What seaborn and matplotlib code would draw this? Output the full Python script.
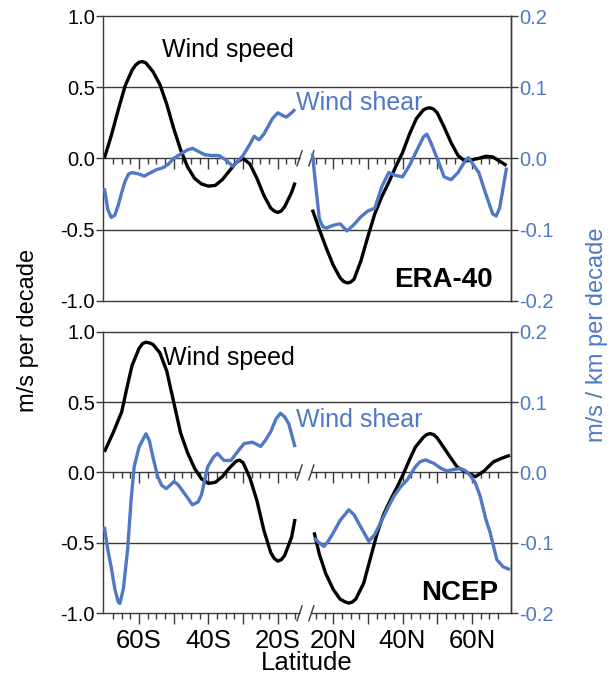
import numpy as np
import pandas as pd
import matplotlib
matplotlib.use("Agg")
import matplotlib.pyplot as plt
import seaborn as sns

sns.set_theme(style="white")
plt.rcParams["font.family"] = ["Liberation Sans", "DejaVu Sans"]
plt.rcParams["axes.unicode_minus"] = False
plt.rcParams["text.color"] = "black"

BLUE = "#4f79c4"
GREY = "#3a3a3a"

# ---------------- data (latitude in degrees, S negative) ----------------
# ERA-40 wind speed trend (m/s per decade)
era_spd_sh_lat = [-70, -68, -66, -64, -62, -61, -60, -59, -58, -56, -54, -52, -50, -48, -46, -44, -42,
                  -40, -38, -36, -34, -32, -30, -28, -26, -24, -22, -21, -20, -19, -18, -16, -15]
era_spd_sh = [0.0, 0.16, 0.34, 0.51, 0.62, 0.655, 0.675, 0.68, 0.67, 0.61, 0.52, 0.38, 0.21, 0.06,
              -0.06, -0.14, -0.18, -0.195, -0.19, -0.15, -0.09, -0.03, 0.0, -0.04, -0.14, -0.26,
              -0.35, -0.37, -0.38, -0.37, -0.34, -0.24, -0.17]
era_spd_nh_lat = [14, 16, 18, 20, 22, 23, 24, 25, 26, 28, 30, 32, 34, 36, 38, 40, 42, 44, 46, 47, 48,
                  49, 50, 52, 54, 56, 58, 60, 62, 64, 66, 68, 70]
era_spd_nh = [-0.36, -0.5, -0.63, -0.75, -0.84, -0.865, -0.875, -0.87, -0.85, -0.72, -0.55, -0.39,
              -0.27, -0.17, -0.06, 0.04, 0.17, 0.28, 0.34, 0.352, 0.355, 0.345, 0.32, 0.22, 0.11,
              0.02, -0.02, -0.01, 0.0, 0.015, 0.01, -0.02, -0.05]
# ERA-40 wind shear trend (m/s / km per decade)
era_shr_sh_lat = [-70, -69, -68, -67, -66, -65, -64, -63, -62, -60, -58.5, -57, -55, -53, -51.5, -50, -48,
                  -46, -44.5, -43, -41, -39, -37, -35, -33, -31.5, -30, -28, -26.8, -25.4, -24, -23,
                  -21.5, -20, -18.5, -17.5, -16, -15]
era_shr_sh = [-0.042, -0.072, -0.083, -0.080, -0.066, -0.048, -0.032, -0.022, -0.020, -0.022, -0.025,
              -0.021, -0.016, -0.013, -0.008, 0.0, 0.006, 0.012, 0.014, 0.010, 0.005, 0.004, 0.004,
              -0.002, -0.011, -0.004, 0.004, 0.02, 0.031, 0.026, 0.034, 0.043, 0.056, 0.064, 0.06,
              0.058, 0.064, 0.069]
era_shr_nh_lat = [14, 15, 16, 17, 18, 20, 22, 24, 26, 28, 30, 32, 34, 36, 38, 40, 42, 44, 46, 47, 48,
                  50, 52, 54, 56, 58, 59, 60, 62, 64, 66, 67, 68, 70]
era_shr_nh = [0.007, -0.04, -0.085, -0.096, -0.098, -0.094, -0.092, -0.102, -0.093, -0.082, -0.074,
              -0.07, -0.04, -0.02, -0.024, -0.026, -0.01, 0.01, 0.03, 0.034, 0.024, 0.0, -0.026, -0.03,
              -0.02, -0.004, 0.001, -0.006, -0.02, -0.05, -0.078, -0.081, -0.07, -0.013]

# NCEP wind speed trend (m/s per decade)
ncep_spd_sh_lat = [-70, -67.5, -65, -63.5, -62, -60, -59, -58, -57, -56, -54, -52, -50, -48, -46, -44,
                   -42, -40, -38, -36, -34, -32, -31, -30, -28, -26, -24, -22, -21, -20, -19, -18,
                   -16, -15]
ncep_spd_sh = [0.146, 0.28, 0.43, 0.6, 0.76, 0.88, 0.915, 0.925, 0.92, 0.91, 0.85, 0.72, 0.5, 0.28,
               0.14, 0.03, -0.045, -0.078, -0.07, -0.03, 0.03, 0.08, 0.087, 0.07, -0.04, -0.2, -0.41,
               -0.57, -0.61, -0.63, -0.62, -0.59, -0.46, -0.33]
ncep_spd_nh_lat = [14.5, 16, 17.8, 20, 22, 23.5, 24.5, 25.5, 26.5, 28.8, 30.5, 32.7, 34.5, 36.5, 38.5,
                   40.3, 42, 43.7, 46, 47, 48, 49, 50, 51.8, 54, 55.7, 58.5, 61, 63.5, 66.2, 68.5, 71]
ncep_spd_nh = [-0.425, -0.58, -0.715, -0.83, -0.9, -0.92, -0.928, -0.92, -0.9, -0.786, -0.63, -0.43,
               -0.3, -0.196, -0.1, -0.007, 0.09, 0.18, 0.25, 0.27, 0.276, 0.268, 0.245, 0.18, 0.1,
               0.04, 0.0, -0.03, 0.01, 0.075, 0.1, 0.122]
# NCEP wind shear trend (m/s / km per decade)
ncep_shr_sh_lat = [-70, -69, -68, -67, -66, -65.5, -64.5, -63.3, -62.3, -61.4, -60, -58, -57, -56, -54.6,
                   -53.5, -52.2, -51, -49.9, -48.8, -47.9, -46, -44.6, -43, -42, -40.2, -38.5, -37.4,
                   -35.5, -33.5, -31.5, -29.7, -27.3, -24.9, -23.5, -22, -20.5, -19.2, -18, -16.8, -15]
ncep_shr_sh = [-0.077, -0.11, -0.135, -0.165, -0.184, -0.186, -0.165, -0.11, -0.04, 0.008, 0.036, 0.055,
               0.045, 0.022, -0.006, -0.018, -0.023, -0.018, -0.013, -0.017, -0.023, -0.036, -0.046,
               -0.042, -0.032, 0.008, 0.022, 0.027, 0.017, 0.017, 0.03, 0.041, 0.043, 0.037, 0.046,
               0.058, 0.076, 0.084, 0.079, 0.069, 0.036]
ncep_shr_nh_lat = [14.5, 16, 17.3, 18.5, 20, 22, 24.5, 26, 27.9, 30.3, 32, 33.6, 35.5, 37.5, 39.5, 41.3,
                   43.7, 45, 46.6, 48, 49, 51, 52.8, 54.5, 56.6, 58, 59.5, 61, 62.4, 64, 65.3, 67.2,
                   69, 71]
ncep_shr_nh = [-0.093, -0.1, -0.105, -0.098, -0.086, -0.068, -0.053, -0.06, -0.077, -0.098, -0.088,
               -0.072, -0.053, -0.034, -0.02, -0.011, 0.008, 0.015, 0.018, 0.015, 0.013, 0.006, 0.002,
               0.004, 0.0056, 0.003, -0.004, -0.015, -0.034, -0.066, -0.086, -0.124, -0.134, -0.138]

tick_labels = ["60S", "", "40S", "", "20S", "20N", "", "40N", "", "60N"]
left_ticks = [-1.0, -0.5, 0.0, 0.5, 1.0]
right_ticks = [-0.2, -0.1, 0.0, 0.1, 0.2]


# broken latitude axis: SH shifted so 70S -> 0, NH shifted so the gap is compressed
def to_u(lat):
    lat = np.asarray(lat, dtype=float)
    return np.where(lat < 0, lat + 70.0, lat + 46.0)


XL = (-0.3, 117.2)
BREAK = (56.3, 59.7)

fig = plt.figure(figsize=(6.16, 6.76), dpi=100)
ax_top = fig.add_axes([0.1677, 0.5552, 0.6614, 0.4211])
ax_bot = fig.add_axes([0.1677, 0.0928, 0.6614, 0.4166])


def draw_line(ax, lat, val, color):
    df = pd.DataFrame({"u": to_u(lat), "v": val})
    sns.lineplot(data=df, x="u", y="v", ax=ax, color=color, lw=2.4, sort=False,
                 estimator=None, solid_capstyle="butt", solid_joinstyle="round")


def break_marks(ax, y):
    for xb in BREAK:
        ax.plot([xb - 0.75, xb + 0.75], [y - 0.055, y + 0.055], color=GREY, lw=1.0,
                clip_on=False, zorder=5)


def panel(ax, spd, shr, bottom):
    ax.set_xlim(*XL)
    ax.set_ylim(-1, 1)
    draw_line(ax, spd[0], spd[1], "black")
    draw_line(ax, spd[2], spd[3], "black")
    for y in (0.5, -0.5):
        ax.axhline(y, color=GREY, lw=1.0, zorder=1)
    # zero line with break
    ax.hlines(0, XL[0], BREAK[0], color=GREY, lw=1.0, zorder=1)
    ax.hlines(0, BREAK[1], XL[1], color=GREY, lw=1.0, zorder=1)
    break_marks(ax, 0)

    for s in ax.spines.values():
        s.set_color(GREY)
        s.set_linewidth(1.0)
    ax.set_yticks(left_ticks)
    ax.set_yticklabels([f"{v:.1f}" for v in left_ticks])
    ax.tick_params(axis="y", direction="out", length=5, width=1, color=GREY,
                   labelsize=14.5, labelcolor="black", pad=1, left=True)
    ax.set_xlabel("")
    ax.set_ylabel("")

    sh_major = [-60, -50, -40, -30, -20]
    nh_major = [20, 30, 40, 50, 60]
    sh_minor = [v for v in np.arange(-67.5, -14.9, 2.5) if v not in sh_major]
    nh_minor = [v for v in np.arange(15, 68, 2.5) if v not in nh_major]
    major_u = to_u(sh_major + nh_major)
    minor_u = to_u(sh_minor + nh_minor)

    # ticks along the zero line
    sec = ax.secondary_xaxis(0.4999)
    sec.set_xticks(major_u)
    sec.set_xticks(minor_u, minor=True)
    sec.set_xticklabels([])
    for s in sec.spines.values():
        s.set_visible(False)
    sec.tick_params(which="major", direction="out", length=8, width=1, color=GREY, bottom=True)
    sec.tick_params(which="minor", direction="out", length=4.5, width=1, color=GREY, bottom=True)

    if bottom:
        ax.spines["bottom"].set_visible(False)
        ax.hlines(-1, XL[0], BREAK[0], color=GREY, lw=1.0, clip_on=False, zorder=3)
        ax.hlines(-1, BREAK[1], XL[1], color=GREY, lw=1.0, clip_on=False, zorder=3)
        break_marks(ax, -1)
        ax.set_xticks(major_u)
        ax.set_xticklabels(tick_labels)
        ax.set_xticks(minor_u, minor=True)
        ax.tick_params(axis="x", which="major", direction="out", length=8, width=1,
                       color=GREY, labelsize=18.5, labelcolor="black", pad=3, bottom=True)
        ax.tick_params(axis="x", which="minor", direction="out", length=4.5, width=1,
                       color=GREY, bottom=True)
        ax.set_xlabel("Latitude", fontsize=18.5, labelpad=-1, color="black")
    else:
        ax.set_xticks([])

    ax2 = ax.twinx()
    ax2.set_ylim(-0.2, 0.2)
    draw_line(ax2, shr[0], shr[1], BLUE)
    draw_line(ax2, shr[2], shr[3], BLUE)
    ax2.set_xlim(*XL)
    for k in ("top", "bottom", "left"):
        ax2.spines[k].set_visible(False)
    ax2.spines["right"].set_color(GREY)
    ax2.spines["right"].set_linewidth(1.0)
    ax2.set_yticks(right_ticks)
    ax2.set_yticklabels([f"{v:.1f}" for v in right_ticks])
    ax2.tick_params(axis="y", direction="out", length=5, width=1, color=GREY,
                    labelsize=14.5, labelcolor=BLUE, pad=1, right=True)
    ax2.set_ylabel("")
    ax2.set_xlabel("")
    return ax2


panel(ax_top, (era_spd_sh_lat, era_spd_sh, era_spd_nh_lat, era_spd_nh),
      (era_shr_sh_lat, era_shr_sh, era_shr_nh_lat, era_shr_nh), False)
panel(ax_bot, (ncep_spd_sh_lat, ncep_spd_sh, ncep_spd_nh_lat, ncep_spd_nh),
      (ncep_shr_sh_lat, ncep_shr_sh, ncep_shr_nh_lat, ncep_shr_nh), True)

# annotations
ax_top.text(0.143, 0.857, "Wind speed", transform=ax_top.transAxes, fontsize=18,
            color="black", ha="left", va="baseline", zorder=6)
ax_top.text(0.473, 0.670, "Wind shear", transform=ax_top.transAxes, fontsize=18,
            color=BLUE, ha="left", va="baseline", zorder=6)
ax_top.text(0.957, 0.047, "ERA-40", transform=ax_top.transAxes, fontsize=20,
            fontweight="bold", color="black", ha="right", va="baseline", zorder=6)
ax_bot.text(0.1465, 0.882, "Wind speed", transform=ax_bot.transAxes, fontsize=18,
            color="black", ha="left", va="baseline", zorder=6)
ax_bot.text(0.473, 0.663, "Wind shear", transform=ax_bot.transAxes, fontsize=18,
            color=BLUE, ha="left", va="baseline", zorder=6)
ax_bot.text(0.969, 0.047, "NCEP", transform=ax_bot.transAxes, fontsize=20,
            fontweight="bold", color="black", ha="right", va="baseline", zorder=6)

fig.text(28 / 616, 1 - 330 / 676, "m/s per decade", rotation=90, ha="center", va="center",
         fontsize=17, color="black")
fig.text(597 / 616, 1 - 335 / 676, "m/s / km per decade", rotation=90, ha="center",
         va="center", fontsize=17, color=BLUE)

fig.savefig("out.png", dpi=100, facecolor="white")
